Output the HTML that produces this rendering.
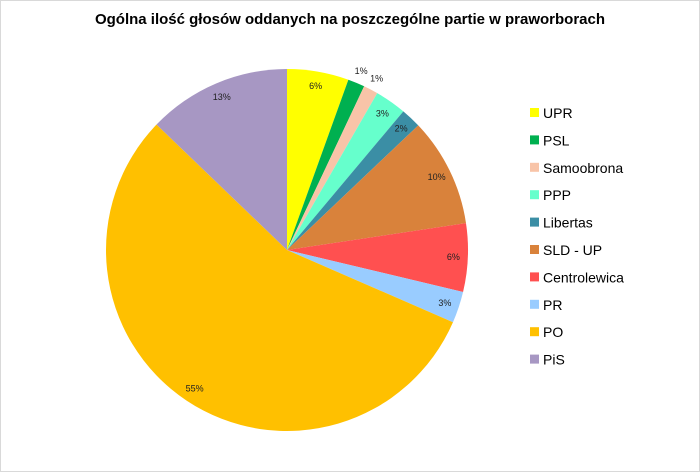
<!DOCTYPE html>
<html><head><meta charset="utf-8"><style>
body{margin:0;background:#fff;}
#wrap{width:700px;height:472px;position:relative;overflow:hidden;background:#fff;}
#frame{position:absolute;left:0;top:0;width:698px;height:470px;border:1px solid #d9d9d9;}
text{font-family:"Liberation Sans",sans-serif;}
</style></head><body>
<div id="wrap">
<div id="frame"></div>
<svg id="svg" width="700" height="472" style="position:absolute;left:0;top:0">
<text x="350" y="24" text-anchor="middle" font-size="15" font-weight="bold" fill="#000">Ogólna ilość głosów oddanych na poszczególne partie w praworborach</text>
</svg>
</div>
<script>
const categories=["UPR","PSL","Samoobrona","PPP","Libertas","SLD - UP","Centrolewica","PR","PO","PiS"];
const values=[5.5,1.5,1.3,2.8,1.8,9.7,6.1,2.8,55.6,12.8];
const labels=["6%","1%","1%","3%","2%","10%","6%","3%","55%","13%"];
const colors=["#ffff00","#00b050","#f8c4a8","#66ffcc","#3b8ea5","#d9823b","#ff5050","#99ccff","#ffc000","#a797c3"];
const svg=document.getElementById('svg');
const NS='http://www.w3.org/2000/svg';
const cx=287,cy=250,r=181;
const total=values.reduce((a,b)=>a+b,0);
function pt(a,rr){return [cx+rr*Math.sin(a),cy-rr*Math.cos(a)];}
let acc=0;
values.forEach((v,i)=>{
  const a0=acc/total*2*Math.PI;acc+=v;const a1=acc/total*2*Math.PI;
  const p0=pt(a0,r),p1=pt(a1,r);
  const path=document.createElementNS(NS,'path');
  path.setAttribute('d',`M${cx},${cy}L${p0[0]},${p0[1]}A${r},${r} 0 ${a1-a0>Math.PI?1:0} 1 ${p1[0]},${p1[1]}Z`);
  path.setAttribute('fill',colors[i]);
  
  
  svg.appendChild(path);
  const am=(a0+a1)/2;const lp=pt(am,v<1.6?r*1.07:r*0.92);
  const t=document.createElementNS(NS,'text');
  t.setAttribute('x',lp[0]);t.setAttribute('y',lp[1]+3);
  t.setAttribute('text-anchor','middle');t.setAttribute('font-size','9');t.setAttribute('fill','#222');
  t.textContent=labels[i];
  
  
  svg.appendChild(t);
});
categories.forEach((c,i)=>{
  const y=113+i*27.4;
  const g=document.createElementNS(NS,'g');
  
  
  const rc=document.createElementNS(NS,'rect');
  rc.setAttribute('x',530);rc.setAttribute('y',y-5);rc.setAttribute('width',9);rc.setAttribute('height',9);rc.setAttribute('fill',colors[i]);
  const t=document.createElementNS(NS,'text');
  t.setAttribute('x',543);t.setAttribute('y',y+5);t.setAttribute('font-size','14');t.setAttribute('fill','#000');
  t.textContent=c;
  g.appendChild(rc);g.appendChild(t);svg.appendChild(g);
});
</script>
</body></html>
